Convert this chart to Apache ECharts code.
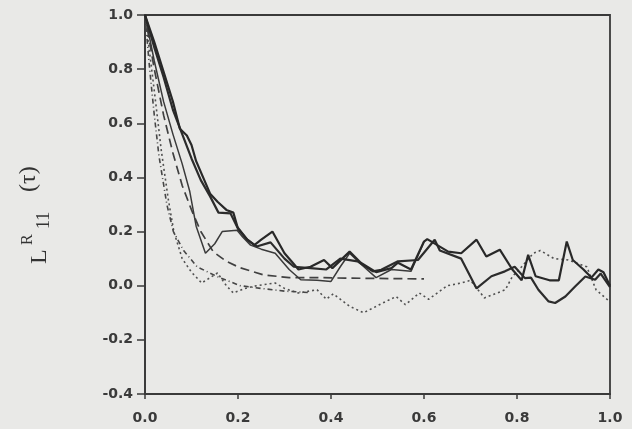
<!DOCTYPE html>
<html>
<head>
<meta charset="utf-8">
<script src="https://cdn.jsdelivr.net/npm/echarts@6/dist/echarts.min.js"></script>
<style>
html,body{margin:0;padding:0;background:#e9e9e7;}
#c{width:632px;height:429px;}
</style>
</head>
<body>
<div id="c"></div>
<script>
// Tick labels
const xTicks = [0.0, 0.2, 0.4, 0.6, 0.8, 1.0];
const yTicks = [-0.4, -0.2, 0.0, 0.2, 0.4, 0.6, 0.8, 1.0];

// Series values: [tau, L11R]
const solid1 = [[0,1.0],[0.02,0.9],[0.04,0.79],[0.06,0.68],[0.075,0.58],[0.09,0.555],[0.1,0.52],[0.11,0.46],[0.125,0.4],[0.14,0.34],[0.156,0.31],[0.175,0.28],[0.19,0.27],[0.2,0.21],[0.22,0.17],[0.235,0.15],[0.25,0.17],[0.274,0.2],[0.3,0.12],[0.32,0.08],[0.33,0.06],[0.356,0.07],[0.385,0.095],[0.403,0.065],[0.44,0.126],[0.464,0.085],[0.497,0.05],[0.53,0.065],[0.544,0.085],[0.572,0.06],[0.6,0.163],[0.607,0.172],[0.652,0.126],[0.68,0.12],[0.713,0.17],[0.734,0.108],[0.763,0.133],[0.79,0.06],[0.81,0.02],[0.824,0.114],[0.84,0.035],[0.87,0.02],[0.89,0.02],[0.907,0.163],[0.92,0.095],[0.943,0.06],[0.96,0.03],[0.975,0.06],[0.986,0.05],[1.0,0.0]];
const solid2 = [[0,1.0],[0.02,0.88],[0.04,0.77],[0.06,0.65],[0.08,0.56],[0.1,0.47],[0.12,0.39],[0.14,0.33],[0.158,0.27],[0.184,0.267],[0.198,0.218],[0.22,0.17],[0.24,0.145],[0.27,0.16],[0.3,0.1],[0.32,0.07],[0.356,0.065],[0.39,0.06],[0.42,0.1],[0.457,0.09],[0.49,0.053],[0.508,0.059],[0.544,0.09],[0.587,0.095],[0.623,0.17],[0.634,0.13],[0.68,0.1],[0.713,-0.01],[0.745,0.035],[0.774,0.053],[0.795,0.07],[0.817,0.028],[0.83,0.03],[0.846,-0.015],[0.868,-0.058],[0.882,-0.064],[0.904,-0.04],[0.925,-0.003],[0.947,0.034],[0.968,0.022],[0.98,0.045],[1.0,-0.005]];
const solid3 = [[0,1.0],[0.02,0.83],[0.04,0.68],[0.06,0.56],[0.08,0.45],[0.096,0.35],[0.11,0.22],[0.13,0.12],[0.15,0.155],[0.166,0.2],[0.198,0.205],[0.21,0.18],[0.227,0.15],[0.25,0.135],[0.28,0.12],[0.31,0.06],[0.335,0.022],[0.37,0.02],[0.4,0.016],[0.42,0.07],[0.44,0.12],[0.464,0.08],[0.497,0.03],[0.53,0.06],[0.572,0.053],[0.6,0.163]];
const dashUpper = [[0,1.0],[0.02,0.8],[0.04,0.63],[0.06,0.49],[0.08,0.37],[0.1,0.28],[0.12,0.2],[0.147,0.125],[0.175,0.09],[0.205,0.066],[0.255,0.04],[0.31,0.03],[0.37,0.03],[0.43,0.028],[0.5,0.027],[0.55,0.026],[0.6,0.025]];
const dashLower = [[0,1.0],[0.01,0.8],[0.02,0.63],[0.03,0.48],[0.047,0.3],[0.061,0.2],[0.083,0.13],[0.112,0.07],[0.155,0.034],[0.205,0.0],[0.25,-0.01],[0.3,-0.02],[0.35,-0.025]];
const dotted = [[0,1.0],[0.01,0.86],[0.02,0.72],[0.035,0.5],[0.05,0.32],[0.062,0.2],[0.08,0.1],[0.1,0.05],[0.122,0.01],[0.14,0.03],[0.156,0.047],[0.175,0.0],[0.19,-0.027],[0.215,-0.01],[0.24,0.0],[0.28,0.01],[0.3,-0.01],[0.33,-0.027],[0.37,-0.015],[0.39,-0.05],[0.405,-0.03],[0.44,-0.076],[0.47,-0.1],[0.51,-0.065],[0.54,-0.04],[0.56,-0.07],[0.59,-0.027],[0.61,-0.05],[0.65,0.0],[0.68,0.01],[0.7,0.02],[0.73,-0.045],[0.775,-0.015],[0.79,0.034],[0.81,0.07],[0.835,0.12],[0.85,0.13],[0.88,0.1],[0.91,0.095],[0.95,0.07],[0.97,-0.015],[1.0,-0.06]];

const ink = '#333333';
const chart = echarts.init(document.getElementById('c'), null, {renderer:'canvas'});
function line(data, width, type, color){
  return {type:'line', data:data, showSymbol:false, smooth:false, animation:false,
    lineStyle:{width:width, type:type, color:color}, z:2};
}
function nameText(txt, size, x, y){
  return {type:'text', x:x, y:y, rotation:Math.PI/2,
    style:{text:txt, font:size+'px "Liberation Serif"', fill:ink, textAlign:'left', textVerticalAlign:'bottom', verticalAlign:'bottom'}};
}
chart.setOption({
  backgroundColor:'#e9e9e7',
  animation:false,
  grid:{left:145, top:15, right:22, bottom:35, show:true, borderColor:'#3a3a3a', borderWidth:1.8, backgroundColor:'transparent'},
  xAxis:{type:'value', min:0, max:1, interval:0.2,
    axisLine:{onZero:false, lineStyle:{color:'#3a3a3a', width:1.8}},
    axisTick:{show:true, length:5, lineStyle:{color:'#3a3a3a', width:1.5}},
    splitLine:{show:false},
    axisLabel:{margin:17, color:'#3a3a3a', fontSize:14, fontWeight:'bold', fontFamily:'DejaVu Sans',
      formatter:v=>{const t=xTicks.find(k=>Math.abs(k-v)<1e-6); return t===undefined?'':t.toFixed(1);}}
  },
  yAxis:{type:'value', min:-0.4, max:1.0, interval:0.2,
    axisLine:{onZero:false, lineStyle:{color:'#3a3a3a', width:1.8}},
    axisTick:{show:true, length:8, lineStyle:{color:'#3a3a3a', width:1.5}},
    splitLine:{show:false},
    axisLabel:{margin:12, color:'#3a3a3a', fontSize:14, fontWeight:'bold', fontFamily:'DejaVu Sans',
      formatter:v=>{const t=yTicks.find(k=>Math.abs(k-v)<1e-6); return t===undefined?'':t.toFixed(1);}}
  },
  graphic:[
    nameText('L', 24, 52, 264),
    nameText('R', 16, 36, 245),
    nameText('11', 18, 53, 229),
    nameText('(τ)', 24, 41, 192)
  ],
  series:[
    line(dotted, 1.6, [2,3], '#505050'),
    line(dashLower, 1.6, [5,3,1,3], '#464646'),
    line(dashUpper, 1.7, [9,5], '#404040'),
    line(solid3, 1.5, 'solid', '#3a3a3a'),
    line(solid2, 2.2, 'solid', '#2c2c2c'),
    line(solid1, 2.2, 'solid', '#282828')
  ]
});
</script>
</body>
</html>
